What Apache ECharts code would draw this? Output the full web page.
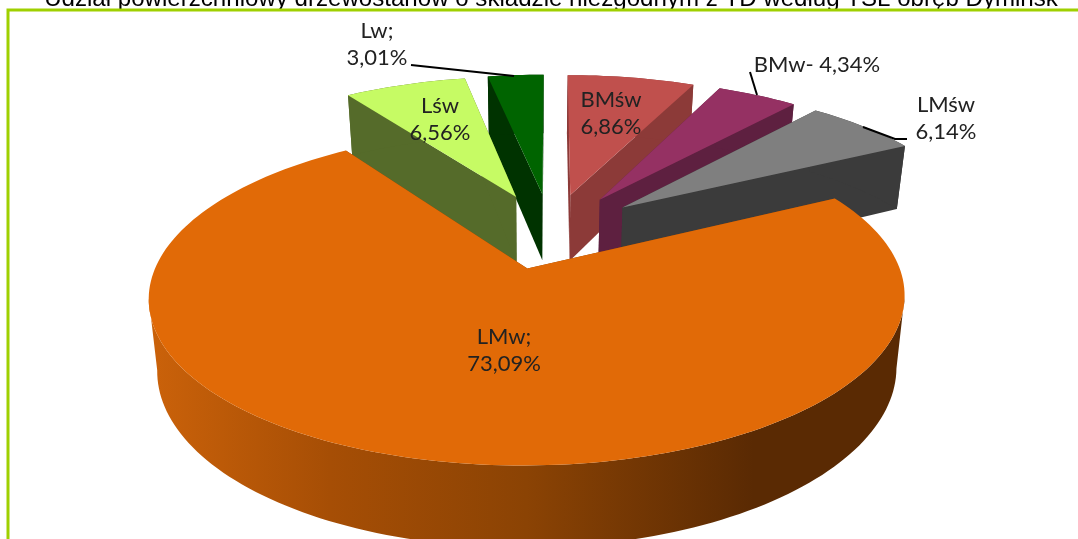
<!DOCTYPE html>
<html>
<head>
<meta charset="utf-8">
<style>html,body{margin:0;padding:0;background:#fff}#chart{width:1078px;height:539px}</style>
<script src="https://cdn.jsdelivr.net/npm/echarts@6/dist/echarts.min.js"></script>
</head>
<body>
<div id="chart"></div>
<script>
// slices in pie order, clockwise from 12 o'clock
var names = ['BMśw', 'BMw', 'LMśw', 'LMw', 'Lśw', 'Lw'];
var shares = [6.86, 4.34, 6.14, 73.09, 6.56, 3.01];
var labelTexts = ['BMśw\n6,86%', 'BMw- 4,34%', 'LMśw\n6,14%', 'LMw;\n73,09%', 'Lśw\n6,56%', 'Lw;\n3,01%'];
var topColors = ['#C0504D', '#953163', '#7F7F7F', '#E16A07', '#C6FB64', '#006400'];
var wallColors = ['#8C3A38', '#5E2040', '#3B3B3B', '#8A4203', '#556B2A', '#003300'];

// perspective of the pie plane
var cx = 551, cy = 230.4, scaleX = 361, scaleY = 150.4, persp = 0.165;
var explodeU = 0.26, explodeV = 0.25, radiusU = 0.99, wallH = 68, wallShrink = 0.978, wallCx = 535;
var labelPos = [[611, 113], [817, 65], [946, 118], [504, 350], [440, 119], [377, 44]];
var leaders = [null, [[750, 72], [757, 95]], [[863, 127], [895, 139], [907, 139]], null, null, [[411, 65], [514, 76]]];
var drawOrder = [0, 1, 2, 5, 4, 3];

function project(u, v, bottom) {
    var w = 1 / (1 - persp * v);
    var x = cx + scaleX * u * w, y = cy + scaleY * v * w;
    if (bottom) {
        x = wallCx + (x - wallCx) * wallShrink;
        y = y + wallH * (1 + (w - 1) * 0.8);
    }
    return [x, y];
}

var total = shares.reduce(function (a, b) { return a + b; }, 0);
var starts = [], acc = 0;
shares.forEach(function (s) { starts.push(acc / total * Math.PI * 2); acc += s; });

function buildSlice(i) {
    var a0 = starts[i], a1 = a0 + shares[i] / total * Math.PI * 2;
    var mid = (a0 + a1) / 2;
    var ou = explodeU * Math.sin(mid), ov = -explodeV * Math.cos(mid);
    var rim = [], n = Math.max(6, Math.ceil((a1 - a0) * 40));
    for (var k = 0; k <= n; k++) {
        var t = a0 + (a1 - a0) * k / n;
        rim.push([ou + radiusU * Math.sin(t), ov - Math.cos(t)]);
    }
    var top = rim.map(function (p) { return project(p[0], p[1]); });
    var low = rim.map(function (p) { return project(p[0], p[1], true); });
    var apexT = project(ou, ov), apexB = project(ou, ov, true);
    return { top: top, low: low, apexT: apexT, apexB: apexB };
}

function poly(points, fill) {
    return { type: 'polygon', shape: { points: points }, style: { fill: fill } };
}

// outer wall only between the rim's x extremes, the rest sits under the top face
function arcWall(s) {
    var iMin = 0, iMax = 0;
    s.top.forEach(function (p, k) {
        if (p[0] < s.top[iMin][0]) iMin = k;
        if (p[0] > s.top[iMax][0]) iMax = k;
    });
    var from = Math.min(iMin, iMax), to = Math.max(iMin, iMax) + 1;
    return s.top.slice(from, to).concat(s.low.slice(from, to).reverse());
}

function renderSlice(params, api) {
    var i = api.value(0);
    var s = buildSlice(i);
    var wall = wallColors[i];
    var arcFill = wall;
    if (names[i] === 'LMw') {
        arcFill = new echarts.graphic.LinearGradient(0, 0, 1, 0, [
            { offset: 0, color: '#CB620A' },
            { offset: 0.24, color: '#A64E05' },
            { offset: 0.5, color: '#8B4304' },
            { offset: 0.8, color: '#5A2A03' },
            { offset: 1, color: '#5A2A03' }
        ]);
    }
    var last = s.top.length - 1;
    var children = [
        poly([s.apexT, s.top[0], s.low[0], s.apexB], wall),
        poly([s.apexT, s.top[last], s.low[last], s.apexB], wall),
        poly(arcWall(s), arcFill),
        poly([s.apexT].concat(s.top), topColors[i])
    ];
    return { type: 'group', children: children };
}

function renderNotes(params, api) {
    var i = api.value(0);
    var children = [];
    if (leaders[i]) {
        children.push({ type: 'polyline', shape: { points: leaders[i] }, style: { stroke: '#000', lineWidth: 2, fill: null } });
    }
    children.push({
        type: 'text',
        x: labelPos[i][0], y: labelPos[i][1],
        style: { text: labelTexts[i], fill: '#222', font: '22px Lato', align: 'center', verticalAlign: 'middle', lineHeight: 27 }
    });
    return { type: 'group', children: children };
}

var chart = echarts.init(document.getElementById('chart'), null, { renderer: 'canvas' });
chart.setOption({
    animation: false,
    backgroundColor: '#fff',
    title: {
        text: 'Udział powierzchniowy drzewostanów o składzie niezgodnym z TD według TSL obręb Dymińsk',
        left: 546, top: -18, textAlign: 'center',
        textStyle: { fontFamily: 'Liberation Sans', fontSize: 24.1, fontWeight: 'normal', color: '#000' }
    },
    graphic: [{
        type: 'polyline', z: 20,
        shape: { points: [[8, 539], [8, 10], [1078, 10]] },
        style: { stroke: '#9FD000', lineWidth: 3, fill: null }
    }],
    xAxis: { show: false }, yAxis: { show: false },
    series: [{
        type: 'custom', coordinateSystem: 'none', silent: true, clip: false,
        renderItem: renderSlice,
        data: drawOrder.map(function (i) { return [i, shares[i], names[i]]; })
    }, {
        type: 'custom', coordinateSystem: 'none', silent: true, clip: false, z: 5,
        renderItem: renderNotes,
        data: drawOrder.map(function (i) { return [i, shares[i], names[i]]; })
    }]
});
</script>
</body>
</html>
